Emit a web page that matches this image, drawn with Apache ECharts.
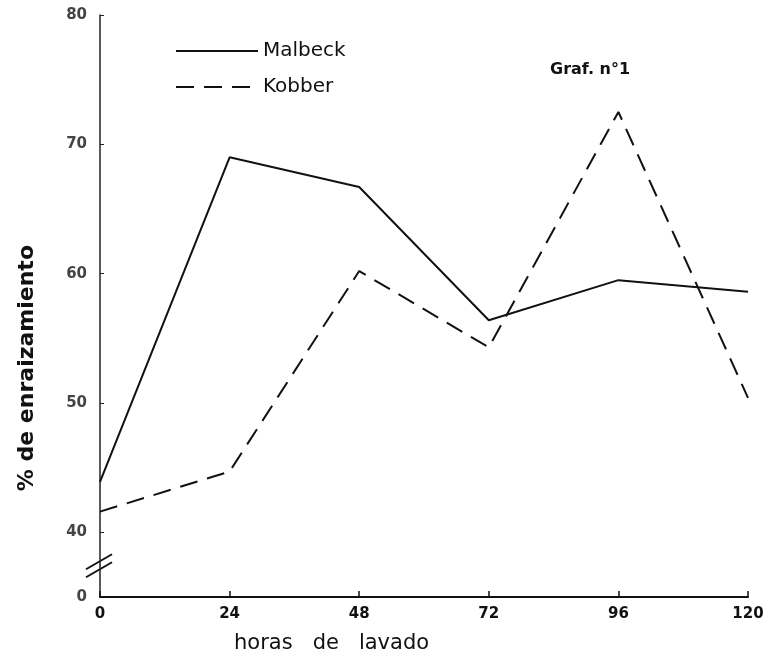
<!DOCTYPE html>
<html><head><meta charset="utf-8">
<script src="https://cdn.jsdelivr.net/npm/echarts@6/dist/echarts.min.js"></script>
<style>html,body{margin:0;padding:0;background:#fff}#c{width:771px;height:659px}</style>
</head><body><div id="c"></div>
<script>
const hours = [0, 24, 48, 72, 96, 120];
const malbeck = [43.9, 69.0, 66.7, 56.4, 59.5, 58.6];
const kobber = [41.6, 44.7, 60.2, 54.3, 72.5, 50.4];
const yTicks = [35, 40, 50, 60, 70, 80];
const yTickLabels = {35: '0', 40: '40', 50: '50', 60: '60', 70: '70', 80: '80'};

const chart = echarts.init(document.getElementById('c'));
const F = 'DejaVu Sans';
chart.setOption({
  animation: false,
  backgroundColor: '#fff',
  title: {text: 'Graf. n°1', left: 545, top: 57, textStyle: {fontFamily: F, fontSize: 16, fontWeight: 'bold', color: '#111'}},
  legend: {
    orient: 'vertical', left: 170, top: 36, itemWidth: 82, itemHeight: 14, itemGap: 16,
    itemStyle: {opacity: 0},
    textStyle: {fontFamily: F, fontSize: 20, color: '#111'},
    data: ['Malbeck', 'Kobber']
  },
  grid: {left: 100, right: 23, top: 15, bottom: 62},
  xAxis: {
    type: 'value', min: 0, max: 120, interval: 24,
    axisLine: {lineStyle: {color: '#111', width: 2}},
    axisTick: {inside: true, length: 6, lineStyle: {color: '#111', width: 1.5}},
    axisLabel: {margin: 10, fontFamily: F, fontSize: 15, fontWeight: 'bold', color: '#111'},
    splitLine: {show: false}
  },
  yAxis: {
    type: 'value', min: 35, max: 80,
    axisLine: {show: true, lineStyle: {color: '#222', width: 1.5}},
    axisTick: {show: true, inside: true, length: 4, customValues: yTicks.slice(1), lineStyle: {color: '#222'}},
    axisLabel: {customValues: yTicks, margin: 13, fontFamily: F, fontSize: 15, fontWeight: 'bold', color: '#444',
      formatter: v => yTickLabels[v] !== undefined ? yTickLabels[v] : ''},
    splitLine: {show: false}
  },
  series: [
    {name: 'Malbeck', type: 'line', symbol: 'none', data: hours.map((h, i) => [h, malbeck[i]]),
     lineStyle: {color: '#111', width: 2}, itemStyle: {color: '#111'}},
    {name: 'Kobber', type: 'line', symbol: 'none', data: hours.map((h, i) => [h, kobber[i]]),
     lineStyle: {color: '#111', width: 2, type: [18, 10]}, itemStyle: {color: '#111'}}
  ]
});

function addDecor() {
  const p = chart.convertToPixel({gridIndex: 0}, [0, 37.3]);
  chart.setOption({
    graphic: [
      {type: 'line', shape: {x1: p[0] - 14, y1: p[1] + 10, x2: p[0] + 12, y2: p[1] - 5}, style: {stroke: '#111', lineWidth: 2}},
      {type: 'line', shape: {x1: p[0] - 14, y1: p[1] + 2, x2: p[0] + 12, y2: p[1] - 13}, style: {stroke: '#111', lineWidth: 2}},
      {type: 'text', left: 16, top: 245, rotation: Math.PI / 2,
       style: {text: '% de enraizamiento', fontFamily: F, fontSize: 22, fontWeight: 'bold', fill: '#111'}},
      {type: 'text', left: 234, top: 633,
       style: {text: 'horas   de   lavado', fontFamily: F, fontSize: 21, fill: '#111'}}
    ]
  });
}
addDecor();
</script></body></html>
